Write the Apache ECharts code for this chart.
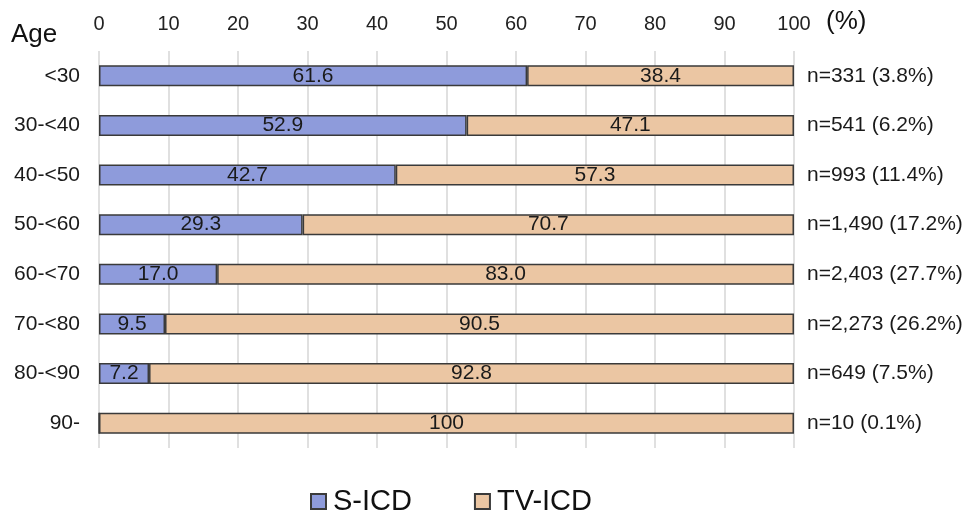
<!DOCTYPE html>
<html><head><meta charset="utf-8">
<script src="https://cdn.jsdelivr.net/npm/echarts@6/dist/echarts.min.js"></script>
<style>html,body{margin:0;padding:0;background:#fff}#c{width:970px;height:514px}</style>
</head><body><div id="c"></div>
<script>
const categories = ['<30','30-<40','40-<50','50-<60','60-<70','70-<80','80-<90','90-'];
const sicd = [61.6, 52.9, 42.7, 29.3, 17.0, 9.5, 7.2, 0];
const tvicd = [38.4, 47.1, 57.3, 70.7, 83.0, 90.5, 92.8, 100];
const nLabels = ['n=331 (3.8%)','n=541 (6.2%)','n=993 (11.4%)','n=1,490 (17.2%)','n=2,403 (27.7%)','n=2,273 (26.2%)','n=649 (7.5%)','n=10 (0.1%)'];
const xTicks = [0,10,20,30,40,50,60,70,80,90,100];

const font = 'Liberation Sans, Arial, sans-serif';
const fmt = p => p.value === 0 ? '' : (p.value === 100 ? '100' : p.value.toFixed(1));
const chart = echarts.init(document.getElementById('c'));
chart.setOption({
  animation: false,
  textStyle: {fontFamily: font},
  grid: {left: 99, right: 176, top: 51, bottom: 66, containLabel: false},
  graphic: [
    {type: 'text', left: 11, top: 22, style: {text: 'Age', fontSize: 26, fontFamily: font, fill: '#111'}},
    {type: 'text', left: 826, top: 9, style: {text: '(%)', fontSize: 26, fontFamily: font, fill: '#111'}}
  ],
  legend: {
    top: 482, left: 305, itemGap: 62, itemWidth: 15, itemHeight: 15,
    icon: 'rect',
    textStyle: {fontSize: 29, color: '#111', fontFamily: font, padding: [0, 0, 0, 2]},
    data: ['S-ICD', 'TV-ICD']
  },
  xAxis: {
    type: 'value', position: 'top', min: 0, max: 100, interval: 10,
    axisLine: {show: false}, axisTick: {show: false},
    axisLabel: {fontSize: 20, color: '#222', margin: 17, formatter: v => xTicks.includes(v) ? String(v) : ''},
    splitLine: {show: true, lineStyle: {color: '#d6d6d6', width: 1.5}}
  },
  yAxis: [
    {type: 'category', data: categories, inverse: true,
     axisLine: {show: false}, axisTick: {show: false},
     axisLabel: {fontSize: 21, color: '#1a1a1a', margin: 19}},
    {type: 'category', data: nLabels, inverse: true, position: 'right',
     axisLine: {show: false}, axisTick: {show: false},
     axisLabel: {fontSize: 21, color: '#1a1a1a', margin: 13, align: 'left'}}
  ],
  series: [
    {name: 'S-ICD', type: 'bar', stack: 'a', data: sicd, barWidth: 21,
     itemStyle: {color: '#8E9BDB', borderColor: '#3a3a3a', borderWidth: 1.5},
     label: {show: true, position: 'inside', color: '#1a1a1a', fontSize: 21, formatter: fmt}},
    {name: 'TV-ICD', type: 'bar', stack: 'a', data: tvicd, barWidth: 21,
     itemStyle: {color: '#EBC6A3', borderColor: '#3a3a3a', borderWidth: 1.5},
     label: {show: true, position: 'inside', color: '#1a1a1a', fontSize: 21, formatter: fmt}}
  ]
});
</script></body></html>
